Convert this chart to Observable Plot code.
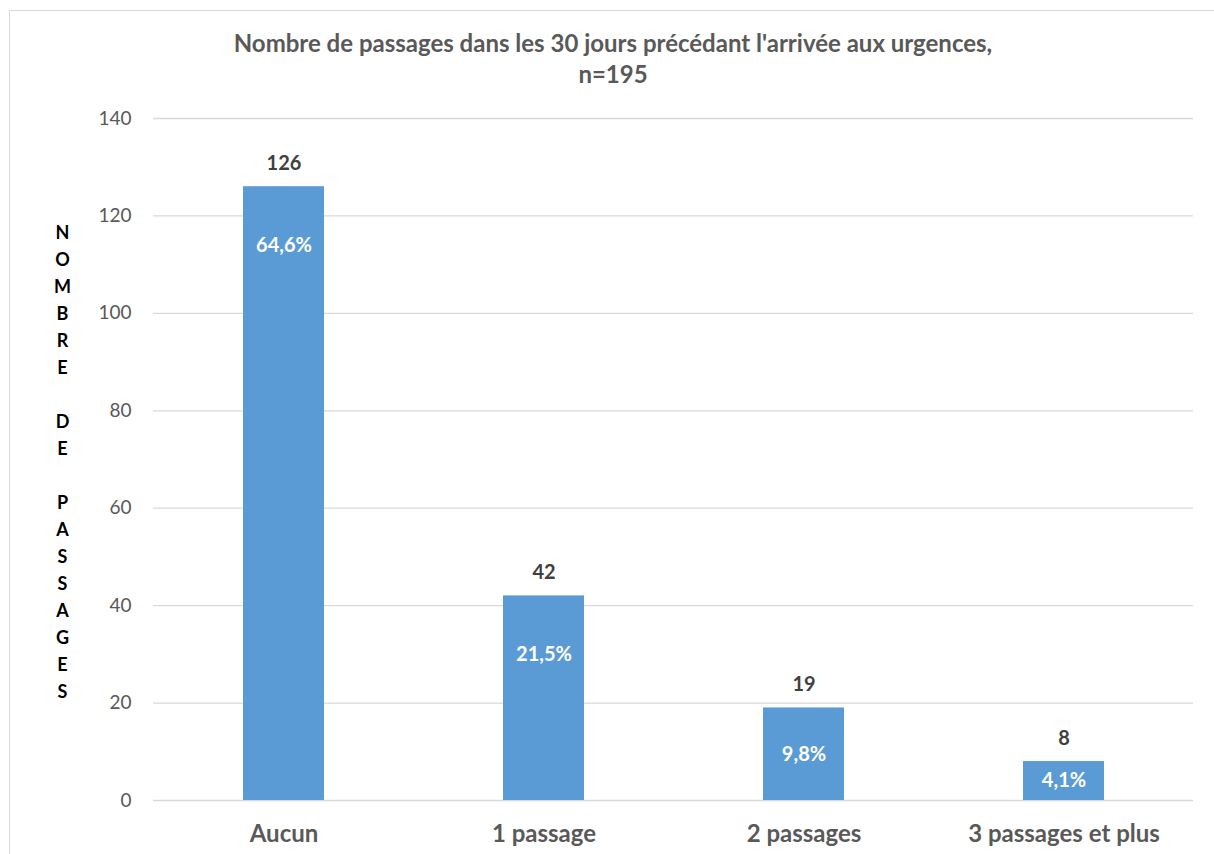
<!DOCTYPE html>
<html>
<head>
<meta charset="utf-8">
<script src="https://cdn.jsdelivr.net/npm/d3@7"></script>
<script src="https://cdn.jsdelivr.net/npm/@observablehq/plot@0.6"></script>
<style>
  html, body { margin: 0; padding: 0; background: #fff; overflow: hidden; }
  #frame { position: absolute; left: 9px; top: 10px; width: 1400px; height: 1000px;
           border-top: 1.5px solid #d9d9d9; border-left: 1.5px solid #d9d9d9; box-sizing: border-box; }
  #wrap { position: relative; width: 1214px; height: 854px; }
  #title { position: absolute; left: 0; top: 0; width: 1226px; height: 100px; text-align: center;
           font-family: Lato, "Open Sans", sans-serif; font-weight: bold; font-size: 24px; color: #595959;
           line-height: 31px; padding-top: 27px; box-sizing: border-box; }
  #chart { position: absolute; left: 0; top: 100px; }
</style>
</head>
<body>
<div id="wrap">
  <div id="frame"></div>
  <div id="title"></div>
  <div id="chart"></div>
</div>
<script>
const categories = ["Aucun", "1 passage", "2 passages", "3 passages et plus"];
const counts = [126, 42, 19, 8];
const percents = ["64,6%", "21,5%", "9,8%", "4,1%"];
const yTicks = [0, 20, 40, 60, 80, 100, 120, 140];
const titleLine1 = "Nombre de passages dans les 30 jours précédant l'arrivée aux urgences,";
const titleLine2 = "n=195";
const yLabel = "NOMBRE DE PASSAGES";

const t1 = document.createElement("div"); t1.textContent = titleLine1;
const t2 = document.createElement("div"); t2.textContent = titleLine2;
document.getElementById("title").append(t1, t2);

const data = categories.map((c, i) => ({cat: c, n: counts[i], pct: percents[i]}));
const stacked = yLabel.split("").map(ch => ch === " " ? "" : ch).join("\n");

const chart = Plot.plot({
  width: 1214,
  height: 754,
  marginTop: 18,
  marginBottom: 54,
  marginLeft: 153,
  marginRight: 21,
  style: { fontFamily: "Lato, 'Open Sans', sans-serif", background: "transparent", overflow: "visible" },
  x: { domain: categories, paddingInner: 0.69, paddingOuter: 0.345, label: null },
  y: { domain: [0, 140], ticks: yTicks, label: null },
  marks: [
    Plot.ruleY(yTicks, { stroke: "#d9d9d9", strokeWidth: 1.3 }),
    Plot.barY(data, { x: "cat", y: "n", fill: "#5B9BD5" }),
    Plot.text(data, { x: "cat", y: "n", text: d => String(d.n), dy: -23, fill: "#404040",
      fontWeight: "bold", fontSize: 20 }),
    Plot.text(data, { x: "cat", y: d => d.n - Math.min(d.n / 2, 12), text: "pct", fill: "#fff",
      fontWeight: "bold", fontSize: 20 }),
    Plot.axisY({ ticks: yTicks, tickSize: 0, tickPadding: 22, fontSize: 19, color: "#595959", label: null }),
    Plot.axisX({ tickSize: 0, tickPadding: 24, fontSize: 24, fontWeight: "bold", color: "#595959", label: null }),
    Plot.text([stacked], { frameAnchor: "left", dx: -91, text: d => d, textAnchor: "middle",
      lineHeight: 1.5, fontSize: 18, fontWeight: "bold", fill: "#000" })
  ]
});
document.getElementById("chart").append(chart);
</script>
</body>
</html>
